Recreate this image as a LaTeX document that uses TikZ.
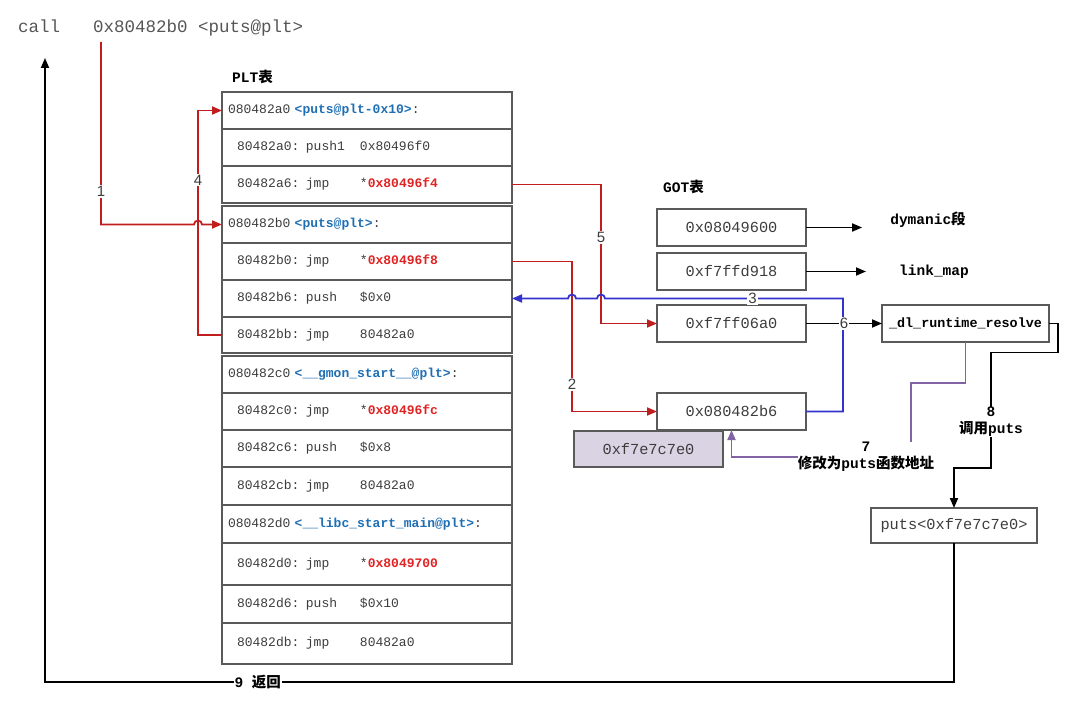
\documentclass[tikz,border=0pt]{standalone}
\usepackage{fontspec}
\setmainfont{Liberation Serif}
\setsansfont{Liberation Sans}
\setmonofont{Liberation Mono}
\newfontfamily\cjk{Noto Sans CJK SC}
\usetikzlibrary{positioning, arrows.meta}
\definecolor{boxc}{RGB}{90,90,90}
\definecolor{txt}{RGB}{60,60,60}
\definecolor{callc}{RGB}{85,85,85}
\definecolor{redl}{RGB}{192,30,30}
\definecolor{redt}{RGB}{225,35,35}
\definecolor{bluet}{RGB}{30,110,180}
\definecolor{bluel}{RGB}{50,50,205}
\definecolor{purpl}{RGB}{130,100,165}
\definecolor{gxfill}{RGB}{218,211,228}
\newcommand\zh[1]{{\cjk #1}}
\newcommand\code{\fontsize{13}{15}\selectfont\ttfamily}
\newcommand\boldlbl{\fontsize{14.5}{17}\selectfont\ttfamily\bfseries}

\begin{document}
\begin{tikzpicture}[x=1pt, y=-1pt, >={Triangle[length=10pt, width=8pt]},
    row/.style={draw=boxc, line width=1.3, anchor=north west, minimum width=290, minimum height=37,
      text width=260, inner xsep=15, inner ysep=0, outer sep=0, align=left, font=\code, text=txt},
    got/.style={draw=boxc, line width=1.3, anchor=north west, minimum width=149, minimum height=37,
      inner sep=0, outer sep=0, font=\fontsize{15.3}{17}\selectfont\ttfamily, text=txt},
    redln/.style={draw=redl, line width=1.8},
    bluln/.style={draw=bluel, line width=1.8},
    purln/.style={draw=purpl, line width=1.8},
    blkln/.style={draw=black, line width=1.8},
    num/.style={fill=white, inner sep=1, font=\fontsize{15}{17}\selectfont\sffamily, text=txt},
    bnum/.style={fill=white, inner sep=1, align=center, font=\boldlbl},
  ]
  \useasboundingbox (0,0) rectangle (1080,717);

  % call line
  \node[anchor=base west, inner sep=0, font=\fontsize{17.5}{20}\selectfont\ttfamily, text=callc] (call) at (18,33) {call};
  \node[anchor=base west, inner sep=0, font=\fontsize{17.5}{20}\selectfont\ttfamily, text=callc] (calladdr) at (93,33) {0x80482b0 <puts@plt>};
  \coordinate (ret) at (45,682);
  \coordinate (top) at (45,58);

  % PLT
  \node[anchor=west, inner sep=0, font=\boldlbl] (plttitle) at (232,77) {PLT\zh{表}};
  \node[row] (h1) at (222,92) {\hspace*{-9pt}080482a0 \textcolor{bluet}{\bfseries<puts@plt-0x10>}:};
  \node[row, below=0pt of h1] (p1) {\makebox[123pt][l]{80482a0: push1}0x80496f0};
  \node[row, below=0pt of p1] (j1) {\makebox[123pt][l]{80482a6: jmp}*\textcolor{redt}{\bfseries 0x80496f4}};
  \node[row, below=3pt of j1] (h2) {\hspace*{-9pt}080482b0 \textcolor{bluet}{\bfseries<puts@plt>}:};
  \node[row, below=0pt of h2] (j2) {\makebox[123pt][l]{80482b0: jmp}*\textcolor{redt}{\bfseries 0x80496f8}};
  \node[row, below=0pt of j2] (p2) {\makebox[123pt][l]{80482b6: push}\$0x0};
  \node[row, below=0pt of p2, minimum height=36] (b2) {\makebox[123pt][l]{80482bb: jmp}80482a0};
  \node[row, below=3pt of b2] (h3) {\hspace*{-9pt}080482c0 \textcolor{bluet}{\bfseries<\_\_gmon\_start\_\_@plt>}:};
  \node[row, below=0pt of h3] (j3) {\makebox[123pt][l]{80482c0: jmp}*\textcolor{redt}{\bfseries 0x80496fc}};
  \node[row, below=0pt of j3] (p3) {\makebox[123pt][l]{80482c6: push}\$0x8};
  \node[row, below=0pt of p3, minimum height=38] (b3) {\makebox[123pt][l]{80482cb: jmp}80482a0};
  \node[row, below=0pt of b3, minimum height=38] (h4) {\hspace*{-9pt}080482d0 \textcolor{bluet}{\bfseries<\_\_libc\_start\_main@plt>}:};
  \node[row, below=0pt of h4, minimum height=42] (j4) {\makebox[123pt][l]{80482d0: jmp}*\textcolor{redt}{\bfseries 0x8049700}};
  \node[row, below=0pt of j4, minimum height=38] (p4) {\makebox[123pt][l]{80482d6: push}\$0x10};
  \node[row, below=0pt of p4, minimum height=41] (b4) {\makebox[123pt][l]{80482db: jmp}80482a0};

  % GOT
  \node[anchor=west, inner sep=0, font=\boldlbl] (gottitle) at (663,187) {GOT\zh{表}};
  \node[got] (g1) at (657,209) {0x08049600};
  \node[got] (g2) at (657,253) {0xf7ffd918};
  \node[got] (g3) at (657,305) {0xf7ff06a0};
  \node[got] (g4) at (657,393) {0x080482b6};
  \node[got, fill=gxfill, minimum height=36] (gx) at (574,431) {0xf7e7c7e0};
  \node[inner sep=0, font=\boldlbl] (dyn) at (928,220) {dymanic\zh{段}};
  \node[inner sep=0, font=\boldlbl] (lmap) at (934,272) {link\_map};
  \node[got, minimum width=167, text=black, font=\fontsize{13.4}{15}\selectfont\ttfamily\bfseries] (res) at (882,305) {\_dl\_runtime\_resolve};
  \node[got, minimum width=166, minimum height=35] (putsf) at (871,508) {puts<0xf7e7c7e0>};
  \node[bnum, inner sep=0] (lbl7) at (866,457) {7\\\zh{修改为}puts\zh{函数地址}};
  \node[bnum, inner sep=0] (lbl8) at (991,422) {8\\\zh{调用}puts};

  % connectors
  \draw[redln, ->] ([xshift=8, yshift=-5]calladdr.south west) |- node[num, pos=0.41] {1}
    ([xshift=-28]h2.west) arc[start angle=180, end angle=0, radius=4pt] -- (h2.west);
  \draw[redln, ->] (b2.west) -- ++(-24,0) |- node[num, pos=0.345] {4} (h1.west);
  \draw[redln, ->] (j1.east) -| node[num, pos=0.69] {5} ([xshift=-56]g3.west) -- (g3.west);
  \draw[redln, ->] (j2.east) -| node[num, pos=0.91] {2} ([xshift=-85]g4.west) -- (g4.west);
  \draw[bluln, ->] (g4.east) -- ++(37,0) |- node[num, pos=0.69] {3} ([xshift=93]p2.east)
    arc[start angle=0, end angle=180, radius=4pt] -- ([xshift=64]p2.east)
    arc[start angle=0, end angle=180, radius=4pt] -- (p2.east);
  \draw[blkln, ->] (g1.east) -- (g1.east -| dyn.west) [shorten >=28pt];
  \draw[blkln, ->] (g2.east) -- (g2.east -| lmap.west) [shorten >=33pt];
  \draw[blkln, ->] (g3.east) -- node[num] {6} (res.west);
  \draw[purln] (res.south) -- ++(0,41) -| ([xshift=45]lbl7.north);
  \draw[purln, ->] (lbl7.west) -| (g4.south);
  \draw[blkln] (res.east) -- ++(9,0) -- ++(0,29) -| (lbl8.north);
  \draw[blkln, ->] (lbl8.south) |- ([yshift=40]putsf.north) -- (putsf.north);
  \draw[blkln, ->] (putsf.south) |- node[bnum, pos=0.883] {9 \zh{返回}} (ret) -- (top);
\end{tikzpicture}
\end{document}
